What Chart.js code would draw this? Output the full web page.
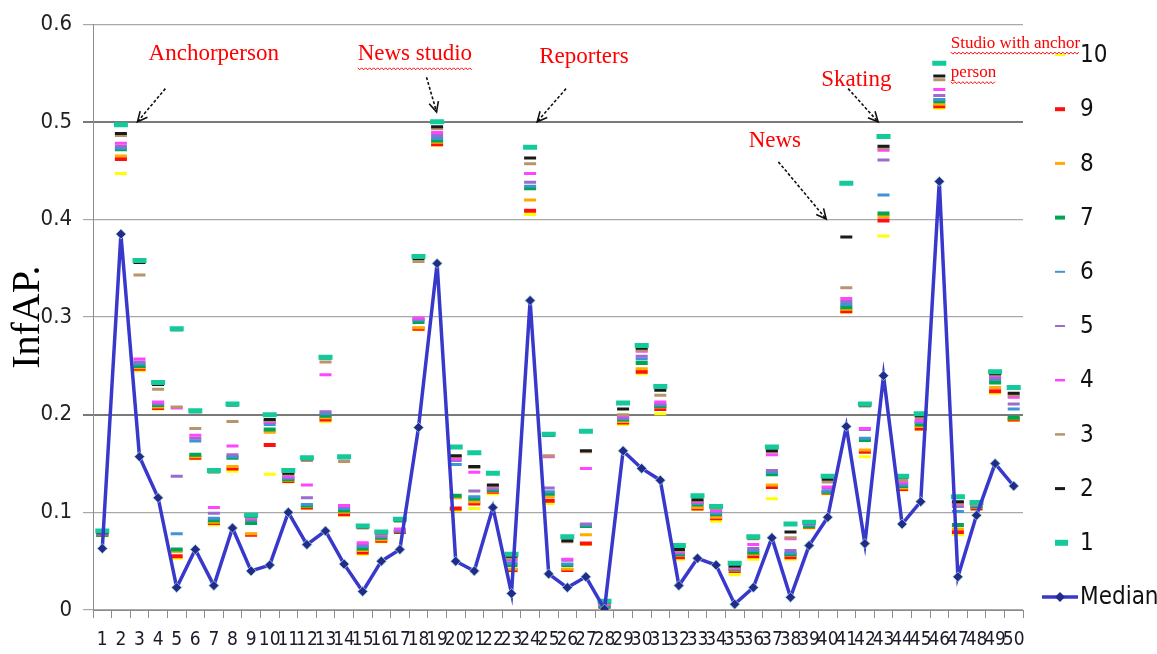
<!DOCTYPE html>
<html>
<head>
<meta charset="utf-8">
<script src="https://cdn.jsdelivr.net/npm/chart.js@4.4.1/dist/chart.umd.min.js"></script>
<style>
  html, body { margin: 0; padding: 0; background: #fff; }
  #contenedor { width: 1157px; height: 654px; position: relative; }
</style>
</head>
<body>
<div id="contenedor"><canvas id="graficaInfAP"></canvas></div>
<script>
// Categorías (consultas 1..50)
var categorias = ['1','2','3','4','5','6','7','8','9','10','11','12','13','14','15','16','17','18','19','20',
  '21','22','23','24','25','26','27','28','29','30','31','32','33','34','35','36','37','38','39','40',
  '41','42','43','44','45','46','47','48','49','50'];

var etiquetasY = ['0', '0.1', '0.2', '0.3', '0.4', '0.5', '0.6'];

// InfAP de las 10 mejores corridas (rango 1 a 10) por consulta
var rango1 = [.081,.497,.358,.233,.288,.204,.143,.211,.097,.200, .143,.156,.259,.157,.086,.080,.093,.362,.500,.167,
  .161,.140,.057,.474,.180,.075,.183,.009,.212,.271, .229,.066,.117,.106,.048,.075,.167,.088,.090,.137,
  .437,.211,.485,.137,.201,.560,.116,.110,.244,.228];
var rango2 = [.079,.488,.356,.231,.287,.203,.142,.210,.096,.195, .140,.155,.258,.156,.085,.079,.092,.360,.495,.158,
  .147,.128,.055,.463,.179,.071,.163,.008,.206,.268, .225,.062,.113,.105,.045,.074,.163,.080,.089,.134,
  .382,.210,.475,.136,.199,.547,.111,.109,.242,.222];
var rango3 = [.079,.486,.343,.226,.208,.186,.141,.193,.095,.194, .139,.153,.254,.152,.084,.078,.091,.357,.493,.157,
  .146,.127,.053,.457,.158,.070,.162,.007,.200,.266, .220,.061,.112,.104,.044,.073,.162,.074,.089,.131,
  .330,.209,.473,.133,.197,.543,.109,.108,.241,.220];
var rango4 = [.078,.478,.257,.213,.207,.179,.105,.168,.094,.193, .137,.128,.241,.107,.069,.077,.083,.299,.489,.155,
  .141,.126,.052,.447,.157,.052,.145,.006,.199,.265, .213,.060,.111,.102,.043,.067,.159,.073,.088,.126,
  .319,.186,.471,.131,.194,.533,.108,.108,.240,.218];
var rango5 = [.078,.475,.254,.212,.137,.176,.099,.159,.093,.192, .136,.115,.203,.106,.067,.076,.082,.298,.486,.153,
  .122,.125,.051,.438,.125,.051,.088,.006,.197,.260, .211,.059,.110,.101,.043,.063,.143,.061,.088,.125,
  .316,.185,.461,.130,.193,.527,.106,.107,.238,.211];
var rango6 = [.078,.473,.252,.211,.078,.173,.094,.157,.092,.190, .135,.108,.201,.104,.065,.075,.081,.297,.483,.149,
  .116,.124,.048,.434,.121,.047,.087,.005,.196,.257, .210,.058,.109,.099,.042,.061,.141,.058,.087,.122,
  .313,.176,.425,.128,.192,.523,.101,.107,.236,.206];
var rango7 = [.077,.472,.250,.210,.062,.159,.092,.156,.089,.185, .134,.107,.199,.102,.063,.074,.081,.295,.481,.117,
  .114,.123,.046,.432,.119,.046,.086,.004,.195,.253, .209,.057,.108,.098,.042,.059,.139,.057,.086,.121,
  .310,.174,.406,.127,.190,.521,.087,.106,.233,.197];
var rango8 = [.077,.465,.248,.208,.060,.157,.090,.147,.078,.182, .133,.106,.197,.100,.061,.072,.081,.289,.479,.115,
  .111,.122,.042,.420,.116,.042,.077,.004,.193,.247, .208,.056,.105,.095,.041,.057,.128,.056,.085,.120,
  .308,.164,.403,.125,.188,.518,.083,.105,.228,.196];
var rango9 = [.077,.462,.247,.207,.055,.156,.089,.145,.077,.169, .132,.105,.195,.098,.059,.071,.080,.288,.477,.104,
  .109,.121,.041,.409,.112,.041,.068,.003,.192,.244, .206,.054,.104,.094,.040,.055,.126,.054,.085,.120,
  .306,.162,.399,.124,.186,.516,.080,.104,.224,.195];
var rango10 = [.076,.447,.245,.206,.053,.155,.087,.142,.077,.139, .131,.104,.193,.097,.057,.070,.080,.287,.476,.102,
  .104,.119,.040,.405,.109,.041,.067,.002,.190,.242, .201,.052,.103,.091,.036,.052,.114,.052,.084,.119,
  .305,.157,.383,.123,.185,.514,.077,.104,.222,.194];

// Mediana de todas las corridas
var mediana = [.063,.385,.157,.115,.023,.062,.025,.084,.040,.046, .100,.067,.081,.047,.019,.050,.062,.187,.355,.050,
  .040,.105,.017,.317,.037,.023,.034,.001,.163,.145, .133,.025,.053,.046,.006,.023,.074,.013,.066,.095,
  .188,.068,.240,.088,.111,.439,.034,.097,.150,.127];

var rangos = [rango1, rango2, rango3, rango4, rango5, rango6, rango7, rango8, rango9, rango10];
var nombresRango = ['1','2','3','4','5','6','7','8','9','10'];

// estilos de las marcas
var coloresRango = ['#14c99a','#1a1a1a','#b8946c','#ff45ff','#9a6ccc','#3f93d6','#00a651','#ffab00','#ff1010','#ffff00'];
var grosorRango = [5, 3, 3, 3, 3, 3, 4, 3, 4, 3];
var grosorLeyenda = [6, 3, 2.5, 2.5, 2, 2, 4, 3, 4, 2];

// Anotaciones en unidades de datos (índice de categoría, InfAP)
var notas = [
  { texto: 'Anchorperson', x: 2.49, y: 0.563, size: 23, onda: false },
  { texto: 'News studio', x: 13.73, y: 0.563, size: 23, onda: true },
  { texto: 'Reporters', x: 23.49, y: 0.560, size: 23, onda: false },
  { texto: 'News', x: 34.75, y: 0.4746, size: 23, onda: false },
  { texto: 'Skating', x: 38.65, y: 0.5366, size: 23, onda: false },
  { texto: 'Studio with anchor', x: 45.62, y: 0.576, size: 17, onda: true },
  { texto: 'person', x: 45.62, y: 0.5457, size: 17, onda: true }
];
var flechas = [
  { x1: 3.39, y1: 0.534, x2: 1.89, y2: 0.500 },
  { x1: 17.43, y1: 0.5457, x2: 17.97, y2: 0.5102 },
  { x1: 24.93, y1: 0.534, x2: 23.38, y2: 0.500 },
  { x1: 36.35, y1: 0.459, x2: 38.92, y2: 0.4004 },
  { x1: 40.10, y1: 0.534, x2: 41.71, y2: 0.500 }
];

var fuenteNumeros = "'Liberation Sans Narrow', 'DejaVu Sans Condensed', 'Liberation Sans', sans-serif";

// Armar los datasets
var datasets = [{
  label: 'Median',
  type: 'line',
  data: mediana,
  borderColor: '#3838cc',
  borderWidth: 3.5,
  pointStyle: 'rectRot',
  pointRadius: 5,
  pointBackgroundColor: '#232a8c',
  pointBorderColor: 'rgba(150,215,205,0.8)',
  pointBorderWidth: 1,
  tension: 0
}];
for (var i = 0; i < rangos.length; i++) {
  datasets.push({
    label: nombresRango[i],
    data: rangos[i],
    showLine: false,
    pointStyle: 'line',
    pointRadius: i === 0 ? 7 : 6,
    pointBorderWidth: grosorRango[i],
    pointBorderColor: coloresRango[i],
    pointBackgroundColor: coloresRango[i],
    borderColor: coloresRango[i]
  });
}

function flecha(ctx, x1, y1, x2, y2) {
  ctx.save();
  ctx.strokeStyle = '#111';
  ctx.lineWidth = 1.6;
  ctx.setLineDash([3, 2]);
  ctx.beginPath();
  ctx.moveTo(x1, y1);
  ctx.lineTo(x2, y2);
  ctx.stroke();
  ctx.setLineDash([]);
  var ang = Math.atan2(y2 - y1, x2 - x1);
  var l = 11;
  ctx.beginPath();
  ctx.moveTo(x2 - l * Math.cos(ang - 0.45), y2 - l * Math.sin(ang - 0.45));
  ctx.lineTo(x2, y2);
  ctx.lineTo(x2 - l * Math.cos(ang + 0.45), y2 - l * Math.sin(ang + 0.45));
  ctx.stroke();
  ctx.restore();
}

function onda(ctx, x, y, w) {
  ctx.save();
  ctx.strokeStyle = '#ff0000';
  ctx.lineWidth = 1;
  ctx.beginPath();
  for (var k = 0; k <= w; k += 2) {
    var yy = y + ((k / 2) % 2 ? 1.5 : -0.5);
    if (k === 0) ctx.moveTo(x + k, yy); else ctx.lineTo(x + k, yy);
  }
  ctx.stroke();
  ctx.restore();
}

// Plugin para la leyenda de la derecha y las anotaciones en rojo
var extras = {
  id: 'extras',
  afterDraw: function (chart) {
    var ctx = chart.ctx;
    var sx = chart.scales.x, sy = chart.scales.y;

    // anotaciones
    ctx.save();
    notas.forEach(function (n) {
      ctx.font = n.size + "px 'Liberation Serif', 'Times New Roman', serif";
      ctx.fillStyle = '#ff0000';
      ctx.textBaseline = 'alphabetic';
      ctx.textAlign = 'left';
      var px = sx.getPixelForValue(n.x), py = sy.getPixelForValue(n.y);
      ctx.fillText(n.texto, px, py);
      if (n.onda) onda(ctx, px, py + (n.size > 20 ? 8 : 5), ctx.measureText(n.texto).width);
    });
    ctx.restore();
    flechas.forEach(function (f) {
      flecha(ctx, sx.getPixelForValue(f.x1), sy.getPixelForValue(f.y1),
        sx.getPixelForValue(f.x2), sy.getPixelForValue(f.y2));
    });

    // leyenda: 10 ... 1 y luego Median
    var x0 = 1055, xt = 1080, y0 = 55, paso = 54.2;
    ctx.save();
    ctx.font = '24px ' + fuenteNumeros;
    ctx.textBaseline = 'middle';
    ctx.textAlign = 'left';
    for (var j = 0; j < 10; j++) {
      var r = 9 - j;
      var ds = chart.data.datasets[r + 1];
      var yy = y0 + paso * j;
      ctx.strokeStyle = ds.pointBorderColor;
      ctx.lineWidth = grosorLeyenda[r];
      ctx.beginPath();
      ctx.moveTo(x0, yy);
      ctx.lineTo(r === 0 ? x0 + 13 : x0 + 10, yy);
      ctx.stroke();
      ctx.fillStyle = '#111';
      ctx.fillText(ds.label, xt, yy + 1);
    }
    var med = chart.data.datasets[0];
    var ym = y0 + paso * 10;
    ctx.strokeStyle = med.borderColor;
    ctx.lineWidth = 3.5;
    ctx.beginPath();
    ctx.moveTo(1042, ym);
    ctx.lineTo(1078, ym);
    ctx.stroke();
    ctx.fillStyle = med.pointBackgroundColor;
    ctx.beginPath();
    ctx.moveTo(1060, ym - 5); ctx.lineTo(1065, ym); ctx.lineTo(1060, ym + 5); ctx.lineTo(1055, ym);
    ctx.closePath();
    ctx.fill();
    ctx.fillStyle = '#111';
    ctx.fillText(med.label, xt, ym + 1);
    ctx.restore();
  }
};

var ctx = document.getElementById('graficaInfAP').getContext('2d');
var grafica = new Chart(ctx, {
  type: 'line',
  data: { labels: categorias, datasets: datasets },
  options: {
    responsive: true,
    maintainAspectRatio: false,
    animation: false,
    events: [],
    layout: { padding: { left: 0, right: 134, top: 19, bottom: 0 } },
    plugins: {
      legend: { display: false },
      tooltip: { enabled: false }
    },
    scales: {
      x: {
        offset: true,
        grid: { offset: true, drawOnChartArea: false, drawTicks: true, tickLength: 8, color: '#8c8c8c' },
        border: { display: true, color: '#8c8c8c', width: 1 },
        ticks: {
          autoSkip: false, maxRotation: 0, minRotation: 0, padding: 11,
          color: '#1a1a2a',
          font: { family: fuenteNumeros, size: 19 }
        },
        afterFit: function (escala) { escala.height = 44; }
      },
      y: {
        min: 0,
        max: 0.6,
        ticks: {
          stepSize: 0.1,
          padding: 11,
          color: '#222',
          font: { family: fuenteNumeros, size: 22 },
          callback: function (valor, indice) { return etiquetasY[indice]; }
        },
        grid: {
          tickLength: 10,
          color: function (c) {
            var v = c.tick ? c.tick.value : -1;
            return (Math.abs(v - 0.2) < 1e-6 || Math.abs(v - 0.5) < 1e-6) ? '#7a7a7a' : '#a8a8a8';
          },
          lineWidth: function (c) {
            var v = c.tick ? c.tick.value : -1;
            return (Math.abs(v - 0.2) < 1e-6 || Math.abs(v - 0.5) < 1e-6) ? 2 : 1.2;
          }
        },
        border: { display: true, color: '#8c8c8c', width: 1 },
        title: {
          display: true,
          text: 'InfAP.',
          color: '#000',
          font: { family: "'Liberation Serif', 'Times New Roman', serif", size: 40 },
          padding: { top: 4, bottom: 0 }
        },
        afterFit: function (escala) { escala.width = 93; }
      }
    }
  },
  plugins: [extras]
});
</script>
</body>
</html>
